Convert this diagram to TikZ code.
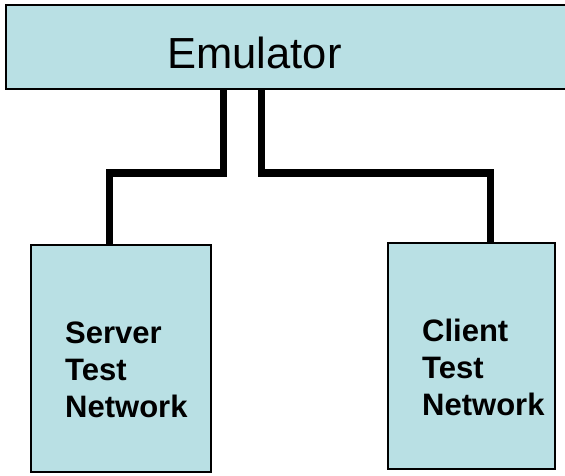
\documentclass[tikz,border=0pt]{standalone}
\usepackage{fontspec}
\setmainfont{Liberation Sans}
\definecolor{boxblue}{RGB}{185,224,228}
\tikzset{
    netbox/.style={rectangle, draw=black, fill=boxblue, line width=2pt, inner sep=0pt},
    netlabel/.style={anchor=base west, align=left, inner sep=0pt, font=\fontsize{31}{37}\selectfont\bfseries},
    link/.style={draw=black, line width=7pt, line join=miter}
}
\begin{document}
\begin{tikzpicture}[x=1pt, y=-1pt]
    \useasboundingbox (0,0) rectangle (565,476);
    % Emulator
    \node[netbox, minimum width=569pt, minimum height=84pt] (emu) at (290.5,47) {};
    \node[anchor=base, inner sep=0pt, font=\fontsize{43.5}{50}\selectfont] (emutext) at (254.5,69) {Emulator};
    % Test networks
    \node[netbox, minimum width=180pt, minimum height=227pt] (server) at (121,358.5) {};
    \node[netlabel] (servertext) at (65,417) {Server\\Test\\Network};
    \node[netbox, minimum width=167pt, minimum height=226pt] (client) at (471.5,356) {};
    \node[netlabel] (clienttext) at (422,415) {Client\\Test\\Network};
    % Links
    \draw[link] ([xshift=-67.5pt]emu.south) -- ++(0,83) -| ([xshift=-12pt]server.north);
    \draw[link] ([xshift=-29.5pt]emu.south) -- ++(0,83) -| ([xshift=18.5pt]client.north);
\end{tikzpicture}
\end{document}
